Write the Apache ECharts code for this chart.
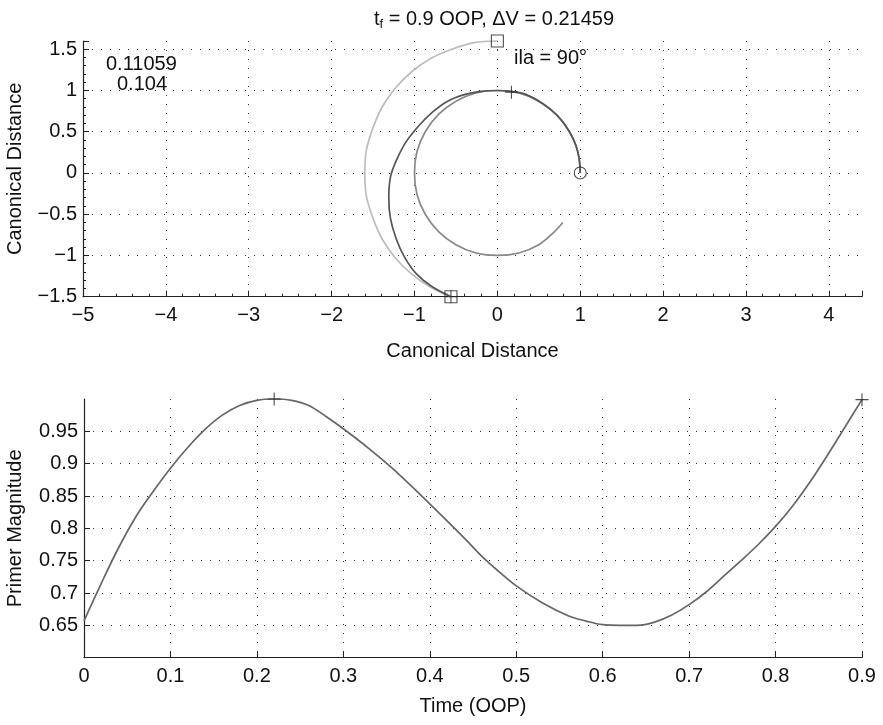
<!DOCTYPE html>
<html>
<head>
<meta charset="utf-8">
<script src="https://cdn.jsdelivr.net/npm/echarts@6/dist/echarts.min.js"></script>
<style>
  html, body { margin: 0; padding: 0; background: #fff; }
  #chart { width: 883px; height: 725px; }
</style>
</head>
<body>
<div id="chart"></div>
<script>
// top panel: trajectories [x, y] in canonical units
const initOrbit = [
  [1, 0], [0.97, 0.26], [0.87, 0.5], [0.71, 0.71], [0.5, 0.87], [0.26, 0.97],
  [0, 1], [-0.26, 0.97], [-0.5, 0.87], [-0.71, 0.71], [-0.87, 0.5], [-0.97, 0.26],
  [-1, 0], [-0.97, -0.26], [-0.87, -0.5], [-0.71, -0.71], [-0.5, -0.87],
  [-0.26, -0.97], [0, -1], [0.26, -0.97], [0.5, -0.87], [0.68, -0.72], [0.79, -0.6]
];
const targetOrbit = [
  [0, 1.6], [-0.28, 1.58], [-0.55, 1.5], [-0.8, 1.39], [-1.03, 1.23], [-1.23, 1.03],
  [-1.39, 0.8], [-1.5, 0.55], [-1.58, 0.28], [-1.6, 0], [-1.58, -0.28], [-1.5, -0.55],
  [-1.39, -0.8], [-1.23, -1.03], [-1.03, -1.23], [-0.8, -1.39], [-0.56, -1.5]
];
const transfer = [
  [1, 0], [0.99, 0.15], [0.95, 0.33], [0.87, 0.5], [0.73, 0.69], [0.55, 0.84],
  [0.35, 0.95], [0.17, 0.99], [0, 1.0], [-0.2, 0.99], [-0.4, 0.95], [-0.6, 0.87],
  [-0.78, 0.74], [-0.95, 0.57], [-1.1, 0.38], [-1.22, 0.15], [-1.29, -0.05],
  [-1.31, -0.3], [-1.29, -0.55], [-1.22, -0.8], [-1.12, -1.02], [-0.98, -1.22],
  [-0.8, -1.37], [-0.56, -1.5]
];
const startPt = [[1, 0]];
const plusPts = [[0.17, 0.98], [-0.56, -1.5]];
const squarePts = [[0, 1.6], [-0.56, -1.5]];

// bottom panel: primer magnitude vs time
const time = [0, 0.02, 0.04, 0.06, 0.08, 0.1, 0.12, 0.14, 0.16, 0.18, 0.2, 0.22, 0.24,
  0.26, 0.28, 0.3, 0.33, 0.36, 0.4, 0.44, 0.46, 0.48, 0.5, 0.53, 0.56, 0.58, 0.6,
  0.62, 0.64, 0.66, 0.68, 0.7, 0.72, 0.74, 0.76, 0.78, 0.8, 0.82, 0.84, 0.86, 0.88, 0.9];
const primer = [0.657, 0.715, 0.77, 0.818, 0.857, 0.893, 0.925, 0.953, 0.975, 0.99,
  0.998, 1.0, 0.998, 0.99, 0.973, 0.954, 0.923, 0.889, 0.838, 0.785, 0.757, 0.733,
  0.711, 0.685, 0.665, 0.657, 0.651, 0.65, 0.65, 0.655, 0.666, 0.682, 0.702, 0.726,
  0.75, 0.775, 0.803, 0.835, 0.872, 0.913, 0.956, 0.999];
const primerPlus = [[0.22, 1.0], [0.9, 0.999]];

const FONT = "Liberation Sans";
const PLUS = "path://M0,5L10,5M5,0L5,10";
const fmt = v => String(v).replace("-", "\u2212");

function axisBase(min, max, interval, minor) {
  return {
    type: "value",
    min: min,
    max: max,
    interval: interval,
    axisLine: { show: true, onZero: false, lineStyle: { color: "#222", width: 1.2 } },
    axisTick: { show: true, inside: true, length: 6, lineStyle: { color: "#222" } },
    minorTick: { show: minor, splitNumber: 5, length: 3, lineStyle: { color: "#222" } },
    axisLabel: { color: "#111", fontFamily: FONT, fontSize: 20, formatter: fmt, showMaxLabel: false },
    splitLine: {
      show: true,
      showMinLine: false,
      showMaxLine: false,
      lineStyle: { color: "#333", type: [1, 8], width: 1 }
    },
    nameLocation: "middle",
    nameTextStyle: { color: "#111", fontFamily: FONT, fontSize: 20 }
  };
}

const chart = echarts.init(document.getElementById("chart"));

const xTop = axisBase(-5, 4.4, 1, true);
xTop.gridIndex = 0;
xTop.name = "Canonical Distance";
xTop.nameGap = 45;
xTop.axisLabel.margin = 9;

const yTop = axisBase(-1.5, 1.6, 0.5, true);
yTop.gridIndex = 0;
yTop.name = "Canonical Distance";
yTop.nameGap = 58;
yTop.axisLabel.margin = 6;

const xBot = axisBase(0, 0.9, 0.1, false);
xBot.gridIndex = 1;
xBot.name = "Time (OOP)";
xBot.nameGap = 39;
xBot.axisLabel.margin = 9;
xBot.axisLabel.showMaxLabel = true;
xBot.splitLine.showMaxLine = true;

const yBot = axisBase(0.6, 1.0, 0.05, false);
yBot.gridIndex = 1;
yBot.name = "Primer Magnitude";
yBot.nameGap = 59;
yBot.axisLabel.margin = 6;
yBot.axisLabel.showMinLabel = false;

function lineSeries(data, color, xi) {
  return {
    type: "line",
    xAxisIndex: xi,
    yAxisIndex: xi,
    data: data,
    showSymbol: false,
    smooth: 0.35,
    clip: false,
    lineStyle: { color: color, width: 1.7 },
    silent: true
  };
}

function markSeries(data, symbol, size, xi) {
  return {
    type: "scatter",
    xAxisIndex: xi,
    yAxisIndex: xi,
    data: data,
    symbol: symbol,
    symbolSize: size,
    clip: false,
    itemStyle: { color: "transparent", borderColor: "#222", borderWidth: 1.1 },
    silent: true,
    z: 5
  };
}

chart.setOption({
  animation: false,
  title: {
    text: "{a|t}{s|f}{a| = 0.9 OOP, \u0394V = 0.21459}",
    left: 489,
    top: 3,
    textAlign: "center",
    textStyle: {
      fontWeight: "normal",
      rich: {
        a: { fontFamily: FONT, fontSize: 20, fontWeight: "normal", color: "#111" },
        s: { fontFamily: FONT, fontSize: 13, fontWeight: "normal", color: "#111", verticalAlign: "bottom", padding: [10, 0, 0, 0] }
      }
    }
  },
  grid: [
    { left: 83, right: 21, top: 41, height: 255.7, outerBoundsMode: "none" },
    { left: 84, right: 21, top: 399, height: 258.7, outerBoundsMode: "none" }
  ],
  xAxis: [xTop, xBot],
  yAxis: [yTop, yBot],
  graphic: [
    { type: "text", left: 106, top: 54, style: { text: "0.11059", font: "20px " + FONT, fill: "#111" } },
    { type: "text", left: 117, top: 74, style: { text: "0.104", font: "20px " + FONT, fill: "#111" } },
    { type: "text", left: 514, top: 48, style: { text: "ila = 90\u00b0", font: "20px " + FONT, fill: "#111" } }
  ],
  series: [
    lineSeries(targetOrbit, "#bdbdbd", 0),
    lineSeries(initOrbit, "#888888", 0),
    lineSeries(transfer, "#555555", 0),
    markSeries(startPt, "circle", 12, 0),
    markSeries(plusPts, PLUS, 13, 0),
    markSeries(squarePts, "rect", 12, 0),
    lineSeries(time.map((t, i) => [t, primer[i]]), "#666666", 1),
    markSeries(primerPlus, PLUS, 13, 1)
  ]
});
</script>
</body>
</html>
